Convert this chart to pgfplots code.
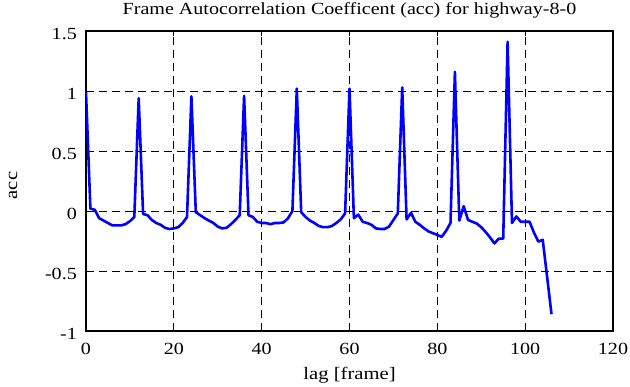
\documentclass[border=0pt]{standalone}
\usepackage{fontspec}
\setmainfont[FakeStretch=1.18]{Liberation Serif}
\usepackage{pgfplots}
\pgfplotsset{compat=1.18}
\usetikzlibrary{calc}
\begin{document}
\begin{tikzpicture}[x=1pt,y=1pt]
\begin{axis}[
  scale only axis,
  width=527pt, height=300pt,
  xmin=0, xmax=120, ymin=-1, ymax=1.5,
  xtick={0,20,...,120},
  ytick={-1,-0.5,0,0.5,1,1.5},
  yticklabels={-1,-0.5,0,0.5,1,1.5},
  /pgf/number format/assume math mode=true,
  tick align=inside,
  major tick length=5pt,
  tick style={black, line width=0.8pt},
  axis line style={black, line width=1.5pt},
  grid=major,
  major grid style={black, line width=0.9pt, dash pattern=on 8pt off 5pt},
  every tick label/.append style={font=\fontsize{17}{20}\selectfont},
  xticklabel style={anchor=center, yshift=-18pt},
  yticklabel style={anchor=east, inner sep=0pt, xshift=-9pt, yshift=-3pt},
  title={Frame Autocorrelation Coefficent (acc) for highway-8-0},
  title style={at={(axis description cs:0.5,1)}, anchor=center, yshift=15pt, font=\fontsize{17}{20}\selectfont},
  xlabel={lag [frame]},
  xlabel style={at={(axis description cs:0.5,0)}, anchor=center, yshift=-44pt, font=\fontsize{17.5}{20}\selectfont},
  ylabel={acc},
  ylabel style={at={(axis description cs:-0.1385,0.485)}, anchor=center, font=\fontsize{17.5}{20}\selectfont},
]
\addplot[color={rgb,255:red,0;green,0;blue,255}, line width=2.6pt, line join=round] coordinates {
(0,0.99) (1,0.02) (2,0.01) (3,-0.06) (4,-0.08) (5,-0.10) (6,-0.12) (7,-0.12) (8,-0.12) (9,-0.11)
(10,-0.085) (11,-0.05) (12,0.94) (13,-0.025) (14,-0.035) (15,-0.075) (16,-0.10) (17,-0.115) (18,-0.14) (19,-0.15)
(20,-0.145) (21,-0.135) (22,-0.10) (23,-0.05) (24,0.955) (25,-0.01) (26,-0.035) (27,-0.06) (28,-0.08) (29,-0.10)
(30,-0.13) (31,-0.145) (32,-0.14) (33,-0.11) (34,-0.075) (35,-0.035) (36,0.96) (37,-0.035) (38,-0.05) (39,-0.09)
(40,-0.10) (41,-0.10) (42,-0.11) (43,-0.10) (44,-0.10) (45,-0.095) (46,-0.06) (47,0.0) (48,1.02) (49,-0.01)
(50,-0.05) (51,-0.08) (52,-0.10) (53,-0.125) (54,-0.135) (55,-0.135) (56,-0.125) (57,-0.10) (58,-0.07) (59,-0.02)
(60,1.02) (61,-0.06) (62,-0.03) (63,-0.09) (64,-0.10) (65,-0.115) (66,-0.145) (67,-0.15) (68,-0.15) (69,-0.13)
(70,-0.075) (71,-0.02) (72,1.03) (73,-0.07) (74,-0.015) (75,-0.09) (76,-0.115) (77,-0.145) (78,-0.17) (79,-0.185)
(80,-0.20) (81,-0.215) (82,-0.165) (83,-0.10) (84,1.16) (85,-0.08) (86,0.04) (87,-0.075) (88,-0.09) (89,-0.105)
(90,-0.135) (91,-0.175) (92,-0.22) (93,-0.27) (94,-0.23) (95,-0.23) (96,1.41) (97,-0.10) (98,-0.045) (99,-0.09)
(100,-0.09) (101,-0.09) (102,-0.18) (103,-0.255) (104,-0.24) (105,-0.55) (106,-0.86)
};
\coordinate (bl) at (rel axis cs:0,0);
\end{axis}
\pgfresetboundingbox
\path[use as bounding box] ($(bl)+(-86pt,-56pt)$) rectangle ++(630pt,387pt);
\end{tikzpicture}
\end{document}
